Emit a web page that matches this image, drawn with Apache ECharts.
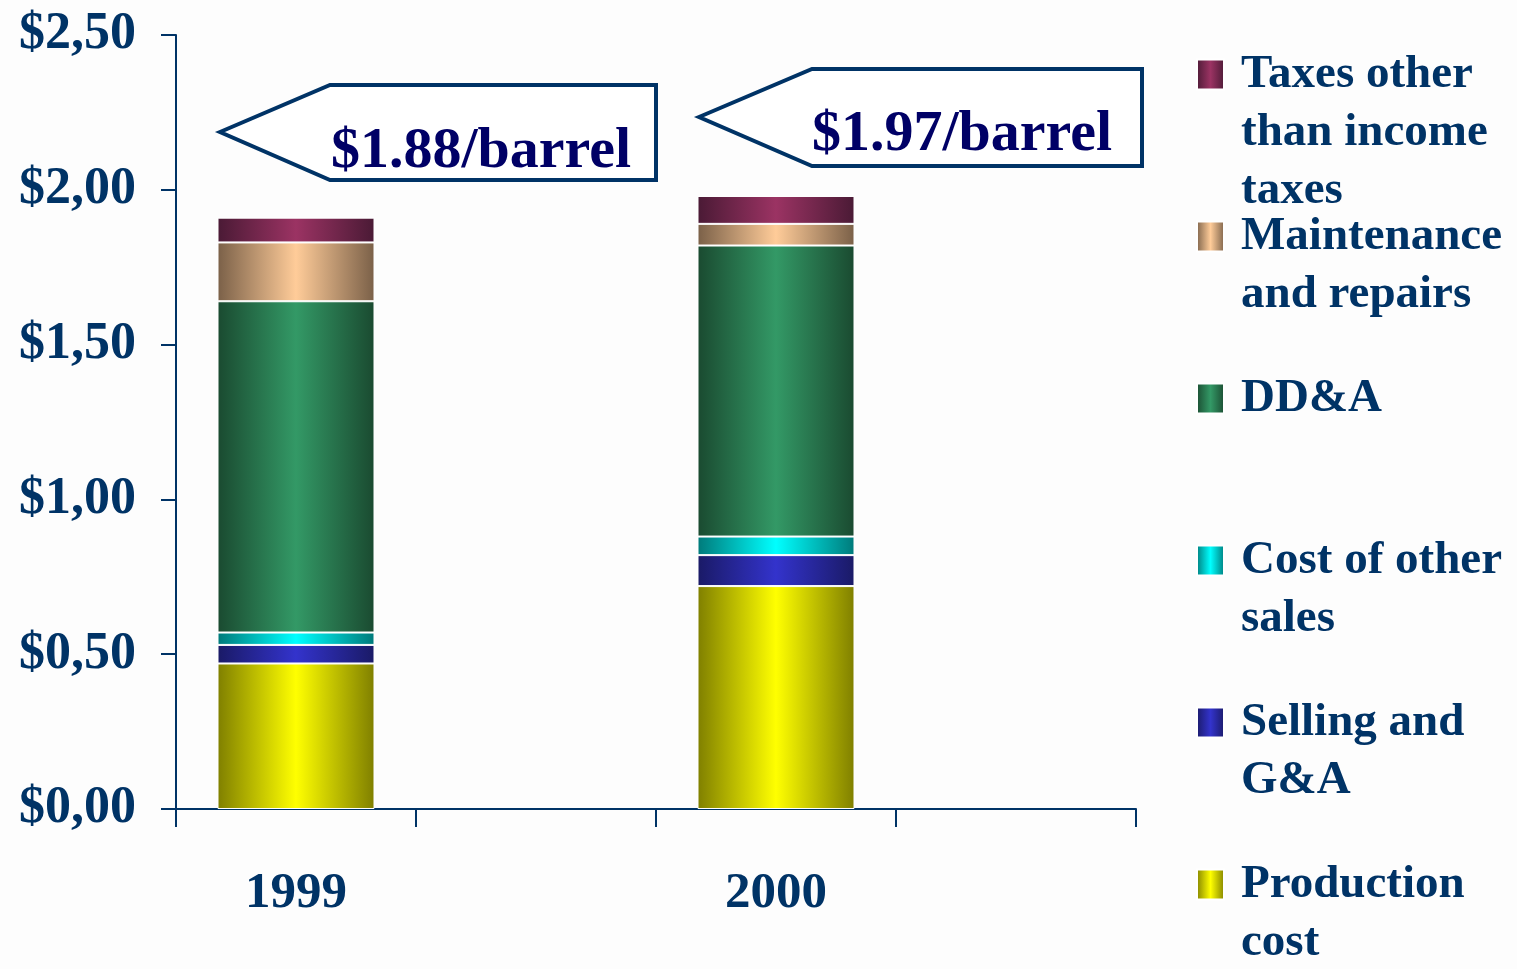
<!DOCTYPE html>
<html>
<head>
<meta charset="utf-8">
<script src="https://cdn.jsdelivr.net/npm/echarts@6/dist/echarts.min.js"></script>
<style>
html,body{margin:0;padding:0;background:#fdfdfd;}
#chart{width:1517px;height:969px;}
</style>
</head>
<body>
<div id="chart"></div>
<script>
// ---- data ----
var categories = ['1999', '', '2000', ''];
var productionCost = [0.47, null, 0.72, null];
var sellingGA = [0.06, null, 0.10, null];
var costOtherSales = [0.04, null, 0.06, null];
var dda = [1.07, null, 0.94, null];
var maintenance = [0.19, null, 0.07, null];
var taxesOther = [0.08, null, 0.09, null];
var seriesNames = ['Production cost', 'Selling and G&A', 'Cost of other sales', 'DD&A', 'Maintenance and repairs', 'Taxes other than income taxes'];
var legendLabels = ['Production\ncost', 'Selling and\nG&A', 'Cost of other\nsales', 'DD&A', 'Maintenance\nand repairs', 'Taxes other\nthan income\ntaxes'];
var yTicks = [0, 0.5, 1, 1.5, 2, 2.5];
var callouts = ['$1.88/barrel', '$1.97/barrel'];

// ---- style ----
var FONT = '"Liberation Serif", "Times New Roman", serif';
var NAVY = '#003366';
var palette = [
  ['#7f7f00', '#ffff00'],
  ['#1a1a66', '#3333cc'],
  ['#007a7a', '#00ffff'],
  ['#1a4a30', '#339966'],
  ['#7a6048', '#ffcc99'],
  ['#4a1a35', '#9b3363']
];
function grad(p) {
  return new echarts.graphic.LinearGradient(0, 0, 1, 0, [
    {offset: 0, color: p[0]}, {offset: 0.5, color: p[1]}, {offset: 1, color: p[0]}
  ]);
}
var values = [productionCost, sellingGA, costOtherSales, dda, maintenance, taxesOther];
var series = values.map(function (v, i) {
  return {
    name: seriesNames[i], type: 'bar', stack: 'cost', data: v,
    barWidth: 157,
    itemStyle: {color: grad(palette[i]), borderColor: '#ffffff', borderWidth: 1},
    emphasis: {disabled: true}
  };
});

var LH = 58;
var iconCenters = [884.5, 722.5, 560.5, 398.5, 236.5, 74.5];
var legends = seriesNames.map(function (n, i) {
  var lines = legendLabels[i].split('\n');
  var nl = lines.length;
  var pre = [];
  for (var k = 1; k < nl; k++) pre.push(' ');
  var txt = pre.concat(lines).join('\n');
  return {
    orient: 'vertical', left: 1196, top: iconCenters[i] - (2 * nl - 1) * LH / 2, padding: 0,
    itemWidth: 27, itemHeight: 30, icon: 'rect',
    data: [{name: n, icon: 'rect'}],
    formatter: function () { return txt; },
    textStyle: {fontFamily: FONT, fontWeight: 'bold', fontSize: 47, lineHeight: LH, color: NAVY, padding: [0, 0, 0, 12]}
  };
});

function callout(tipX, tipY, x0, x1, y0, y1) {
  return {
    type: 'polygon',
    shape: {points: [[tipX, tipY], [x0, y0], [x1, y0], [x1, y1], [x0, y1]]},
    style: {fill: '#ffffff', stroke: NAVY, lineWidth: 4, lineJoin: 'miter'},
    z: 10
  };
}

var chart = echarts.init(document.getElementById('chart'));
chart.setOption({
  backgroundColor: '#fdfdfd',
  animation: false,
  grid: {left: 176, top: 35, width: 960, height: 774, containLabel: false},
  xAxis: {
    type: 'category', data: categories,
    axisLine: {lineStyle: {color: NAVY, width: 2}},
    axisTick: {show: true, length: 18, lineStyle: {color: NAVY, width: 2}},
    axisLabel: {color: NAVY, fontFamily: FONT, fontWeight: 'bold', fontSize: 51, margin: 59}
  },
  yAxis: {
    type: 'value', min: 0, max: 2.5, interval: 0.5,
    splitLine: {show: false},
    axisLine: {show: true, lineStyle: {color: NAVY, width: 2}},
    axisTick: {show: true, length: 15, lineStyle: {color: NAVY, width: 2}},
    axisLabel: {
      color: NAVY, fontFamily: FONT, fontWeight: 'bold', fontSize: 52, margin: 40,
      formatter: function (v) { return '$' + v.toFixed(2).replace('.', ','); }
    }
  },
  legend: legends,
  series: series,
  graphic: [
    callout(220, 132, 330, 656, 85, 180),
    callout(699, 117, 812, 1142, 69, 166),
    {type: 'text', z: 11, style: {x: 331, y: 152, text: callouts[0], font: 'bold 58px ' + FONT, fill: '#000066', verticalAlign: 'middle'}},
    {type: 'text', z: 11, style: {x: 812, y: 135, text: callouts[1], font: 'bold 58px ' + FONT, fill: '#000066', verticalAlign: 'middle'}}
  ]
});
</script>
</body>
</html>
